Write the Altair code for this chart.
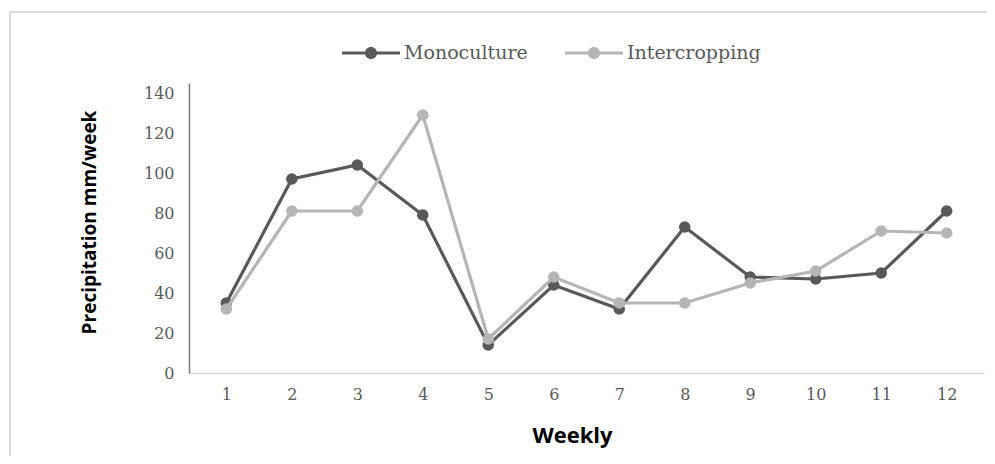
import altair as alt
import pandas as pd

weeks = [1, 2, 3, 4, 5, 6, 7, 8, 9, 10, 11, 12]
monoculture = [35, 97, 104, 79, 14, 44, 32, 73, 48, 47, 50, 81]
intercropping = [32, 81, 81, 129, 17, 48, 35, 35, 45, 51, 71, 70]
series = ["Monoculture", "Intercropping"]
colors = ["#595959", "#b5b5b5"]
y_ticks = [0, 20, 40, 60, 80, 100, 120, 140]

rows = []
for s, vals in zip(series, [monoculture, intercropping]):
    for w, v in zip(weeks, vals):
        rows.append({"Week": w, "Value": v, "Series": s})
df = pd.DataFrame(rows)

W, H = 795, 290
PAD = {"left": 181, "top": 75, "right": 3, "bottom": 83}

x_enc = alt.X("Week:O", sort=weeks,
              scale=alt.Scale(type="point", padding=0.57),
              axis=alt.Axis(title="Weekly", labelAngle=0, labelFont="DejaVu Serif",
                            labelFontSize=16, labelColor="#595959", labelPadding=13,
                            ticks=False, domainColor="#d9d9d9", domainWidth=1.5,
                            titleFont="Open Sans", titleFontWeight="bold", titleFontSize=22,
                            titleColor="#000000", titleX=383, titleY=62,
                            titleBaseline="middle", titleAlign="center"))
y_enc = alt.Y("Value:Q", scale=alt.Scale(domain=[0, 145], nice=False),
              axis=alt.Axis(title="Precipitation mm/week", values=y_ticks, grid=False,
                            labelFont="DejaVu Serif", labelFontSize=16, labelColor="#595959",
                            labelPadding=15, ticks=False, domainColor="#7a7a7a", domainWidth=1.5,
                            titleFont="Open Sans", titleFontWeight="bold", titleFontSize=19,
                            titleColor="#000000", titleX=-100, titleY=139, titleAngle=-90,
                            titleBaseline="middle", titleAlign="center"))

sym = ("M-1,-0.05L1,-0.05L1,0.05L-1,0.05Z "
       "M0.21,0A0.21,0.21,0,1,1,-0.21,0A0.21,0.21,0,1,1,0.21,0Z")
legend = alt.Legend(orient="none", legendX=153, legendY=-59, direction="horizontal",
                    title=None, symbolType=sym, symbolSize=3364, symbolStrokeWidth=0,
                    labelFont="DejaVu Serif", labelFontSize=19, labelColor="#595959",
                    labelOffset=4, columnPadding=37)
color_enc = alt.Color("Series:N", scale=alt.Scale(domain=series, range=colors), legend=legend)

base = alt.Chart(df)
layers = []
for s, c in zip(series, colors):
    sub = base.transform_filter(alt.datum.Series == s)
    layers.append(sub.mark_line(strokeWidth=3.2, color=c).encode(x=x_enc, y=y_enc))
    layers.append(sub.mark_point(filled=True, size=135, opacity=1).encode(
        x=x_enc, y=y_enc, color=color_enc))

frame_df = pd.DataFrame({"a": [0]})
frame_v = alt.Chart(frame_df).mark_rule(color="#d9d9d9", strokeWidth=2).encode(
    x=alt.value(-179), y=alt.value(-71), y2=alt.value(H + PAD["bottom"]))
frame_h = alt.Chart(frame_df).mark_rule(color="#d9d9d9", strokeWidth=2).encode(
    x=alt.value(-179), x2=alt.value(W + PAD["right"]), y=alt.value(-71))

chart = alt.layer(frame_v, frame_h, *layers).properties(
    width=W, height=H, autosize=alt.AutoSizeParams(type="none"), padding=PAD,
    background="#ffffff"
).configure_view(stroke=None, strokeWidth=0)

chart.save("out.html", embed_options={"renderer": "svg", "actions": False})
